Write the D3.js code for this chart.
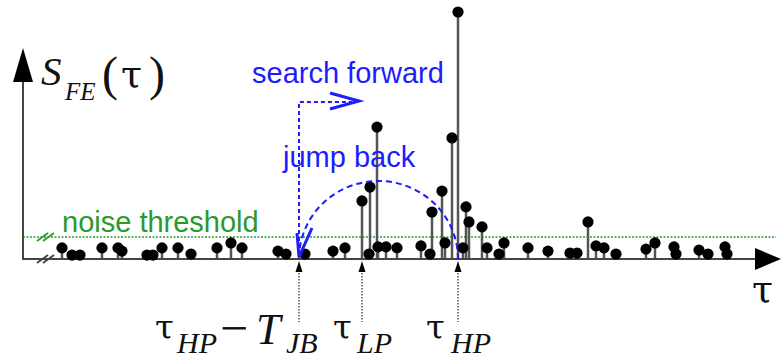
<!DOCTYPE html>
<html>
<head>
<meta charset="utf-8">
<script src="https://cdn.jsdelivr.net/npm/d3@7"></script>
<style>
  body { margin: 0; background: #fff; }
</style>
</head>
<body>
<svg width="781" height="358"></svg>
<script>
// lag (samples) of every correlation peak
const lags = [39, 49, 57, 79, 95, 99, 124, 130, 139, 155, 168, 194, 208, 219,
  255, 263, 282, 310, 322, 339, 346, 347, 354, 355, 363, 374, 398, 407, 409,
  419, 422, 429, 435, 440, 443, 446, 459, 464, 476, 481, 505, 525, 547, 554,
  565, 573, 581, 593, 623, 632, 651, 653, 676, 685, 702, 704];
// peak heights (% of the largest peak)
const heights = [4.5, 1.6, 1.6, 4.5, 4.5, 3.2, 1.6, 1.6, 4.5, 4.5, 2.0, 4.5, 6.5, 4.5,
  3.2, 2.0, 2.0, 3.2, 4.5, 23.5, 2.0, 29.1, 53.4, 4.9, 4.9, 4.5, 5.3, 2.0, 19.0,
  27.5, 6.5, 49.0, 100, 4.5, 21.1, 15.0, 13.0, 4.5, 2.0, 6.5, 4.5, 3.2, 2.4, 2.4,
  15.0, 5.3, 4.5, 2.0, 4.0, 6.5, 4.9, 2.0, 3.6, 2.0, 4.9, 2.0];
const noiseThreshold = 8.9;
// tau_HP - T_JB, tau_LP, tau_HP
const markerLags = [276, 339, 435];
const jumpPeak = 31.6;     // top of the jump back arc
const searchLevel = 63.6;  // height of the search forward path

const blue = '#1c1cff';
const green = '#2a9a2a';
const sans = 'Liberation Sans, Arial, sans-serif';
const serif = 'Liberation Serif, Times New Roman, serif';
const greek = 'DejaVu Serif, serif';

const svg = d3.select('svg');

// scales
const x = d3.scaleLinear().domain([0, 760]).range([23, 783]);
const y = d3.scaleLinear().domain([0, 100]).range([259, 12]);

const peaks = lags.map((l, i) => ({ lag: l, h: heights[i] }));

// noise threshold
svg.append('line')
  .attr('x1', x(0)).attr('x2', 776)
  .attr('y1', y(noiseThreshold)).attr('y2', y(noiseThreshold))
  .attr('stroke', green).attr('stroke-width', 1.5)
  .attr('stroke-dasharray', '2,1.5');

svg.append('text')
  .attr('x', 62).attr('y', 232)
  .attr('font-family', sans).attr('font-size', 29)
  .attr('fill', green)
  .text('noise threshold');

// stems
svg.append('g')
  .selectAll('line')
  .data(peaks)
  .enter()
  .append('line')
  .attr('x1', (d) => x(d.lag)).attr('x2', (d) => x(d.lag))
  .attr('y1', y(0)).attr('y2', (d) => y(d.h))
  .attr('stroke', '#555').attr('stroke-width', 2.5);

// x axis (tau)
svg.append('line')
  .attr('x1', x(0)).attr('x2', 758)
  .attr('y1', y(0)).attr('y2', y(0))
  .attr('stroke', '#444').attr('stroke-width', 2);
svg.append('path')
  .attr('d', 'M755,248 L781,259 L755,270 Z')
  .attr('fill', '#000');

// y axis
svg.append('line')
  .attr('x1', x(0)).attr('x2', x(0))
  .attr('y1', y(0) + 1).attr('y2', 80)
  .attr('stroke', '#444').attr('stroke-width', 2);
svg.append('path')
  .attr('d', 'M23,48 L33,82 L13,82 Z')
  .attr('fill', '#000');

// axis break marks
[[y(0) + 4, '#444'], [y(noiseThreshold) + 4, green]].forEach(([by, c]) => {
  [0, 6].forEach((dx) => {
    svg.append('line')
      .attr('x1', 37 + dx).attr('y1', by)
      .attr('x2', 48 + dx).attr('y2', by - 8)
      .attr('stroke', c).attr('stroke-width', 1.8);
  });
});

// peak heads
svg.append('g')
  .selectAll('circle')
  .data(peaks)
  .enter()
  .append('circle')
  .attr('cx', (d) => x(d.lag))
  .attr('cy', (d) => y(d.h))
  .attr('r', 5.6)
  .attr('fill', '#000');

// search forward path
const sx = x(markerLags[0]);
svg.append('path')
  .attr('d', `M${sx},${y(0) - 4} L${sx},${y(searchLevel)} L352,${y(searchLevel)}`)
  .attr('fill', 'none')
  .attr('stroke', blue).attr('stroke-width', 2)
  .attr('stroke-dasharray', '4,3');
svg.append('polyline')
  .attr('points', `330,93 359,101 330,109`)
  .attr('fill', 'none')
  .attr('stroke', blue).attr('stroke-width', 3);
svg.append('text')
  .attr('x', 252).attr('y', 83)
  .attr('font-family', sans).attr('font-size', 29)
  .attr('fill', blue)
  .text('search forward');

// jump back arc
const ax0 = x(markerLags[0]), ax1 = x(markerLags[2]);
const rx = (ax1 - ax0) / 2, ry = y(0) - y(jumpPeak);
svg.append('path')
  .attr('d', `M${ax1},${y(0)} A${rx},${ry} 0 0 0 ${ax0},${y(0)}`)
  .attr('fill', 'none')
  .attr('stroke', blue).attr('stroke-width', 2)
  .attr('stroke-dasharray', '6,4');
svg.append('polyline')
  .attr('points', `${ax0 - 2},233 ${ax0},257 ${ax0 + 13},228`)
  .attr('fill', 'none')
  .attr('stroke', blue).attr('stroke-width', 3);
svg.append('text')
  .attr('x', 283).attr('y', 167)
  .attr('font-family', sans).attr('font-size', 29)
  .attr('fill', blue)
  .text('jump back');

// lag markers under the axis
const mk = svg.append('g')
  .selectAll('g')
  .data(markerLags)
  .enter()
  .append('g')
  .attr('transform', (d) => 'translate(' + x(d) + ',0)');
mk.append('line')
  .attr('y1', 270).attr('y2', 322)
  .attr('stroke', '#555').attr('stroke-width', 1.5)
  .attr('stroke-dasharray', '1.5,1.5');
mk.append('path')
  .attr('d', 'M0,261 L3.5,272 L-3.5,272 Z')
  .attr('fill', '#000');

// math labels
function label(parts) {
  const t = svg.append('text').attr('fill', '#111');
  parts.forEach((p) => {
    t.append('tspan')
      .attr('x', p.x).attr('y', p.y)
      .attr('font-family', p.greek ? greek : serif)
      .attr('font-size', p.size)
      .attr('font-style', p.italic ? 'italic' : 'normal')
      .text(p.s);
  });
}

label([
  { s: 'S', x: 41, y: 85, size: 41, italic: true },
  { s: 'FE', x: 65, y: 100, size: 25, italic: true },
  { s: '(', x: 102, y: 90, size: 48 },
  { s: 'τ', x: 121, y: 87, size: 38, greek: true },
  { s: ')', x: 149, y: 90, size: 48 },
]);

label([{ s: 'τ', x: 752, y: 302, size: 38, greek: true }]);

label([
  { s: 'τ', x: 155, y: 339, size: 34, greek: true },
  { s: 'HP', x: 177, y: 353, size: 30, italic: true },
  { s: '−', x: 220, y: 345, size: 50 },
  { s: 'T', x: 256, y: 344, size: 44, italic: true },
  { s: 'JB', x: 286, y: 353, size: 30, italic: true },
  { s: 'τ', x: 333, y: 339, size: 34, greek: true },
  { s: 'LP', x: 357, y: 353, size: 30, italic: true },
  { s: 'τ', x: 426, y: 339, size: 34, greek: true },
  { s: 'HP', x: 451, y: 353, size: 30, italic: true },
]);
</script>
</body>
</html>
